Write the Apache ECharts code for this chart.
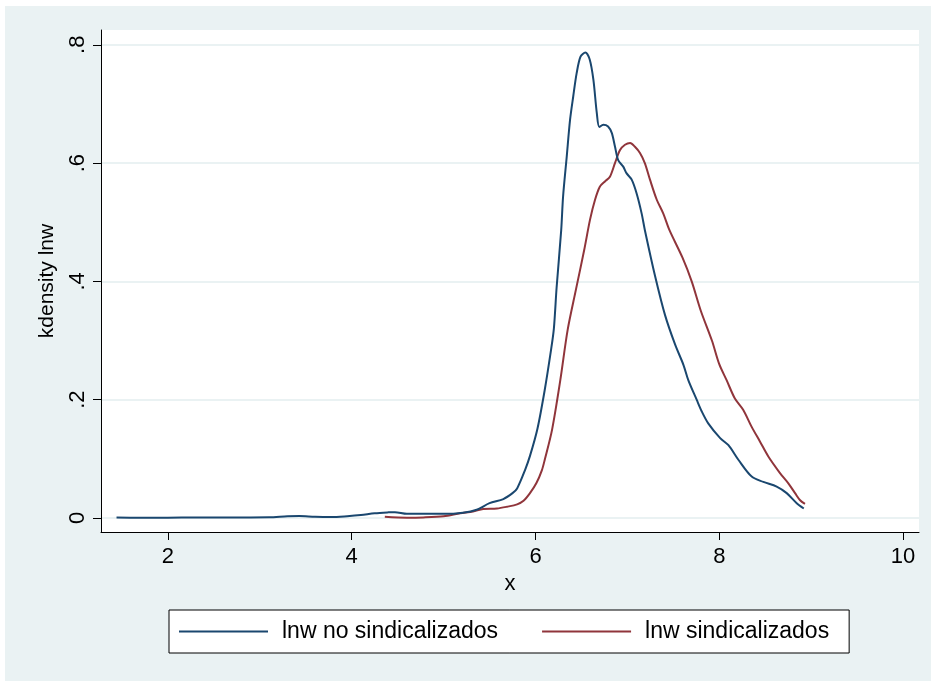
<!DOCTYPE html>
<html>
<head>
<meta charset="utf-8">
<script src="https://cdn.jsdelivr.net/npm/echarts@6/dist/echarts.min.js"></script>
<style>
html,body{margin:0;padding:0;background:#ffffff;}
#chart{position:absolute;left:5px;top:6px;width:926px;height:675px;}
</style>
</head>
<body>
<div id="chart"></div>
<script>
// Tick values and labels
var xTicks = [2, 4, 6, 8, 10];
var yTicks = [0, 0.2, 0.4, 0.6, 0.8];
var yTickLabels = ['0', '.2', '.4', '.6', '.8'];

var seriesNames = ['lnw no sindicalizados', 'lnw sindicalizados'];

// kdensity lnw — no sindicalizados  [x, density]
var noSind = [
  [1.44,0.0008],[1.7,0.0005],[2.0,0.0005],[2.3,0.0008],[2.6,0.001],[2.9,0.001],
  [3.1,0.0012],[3.3,0.003],[3.43,0.0035],[3.6,0.002],[3.78,0.0015],[3.95,0.003],
  [4.1,0.005],[4.25,0.008],[4.4,0.0095],[4.47,0.0098],[4.6,0.007],[4.78,0.007],
  [5.0,0.007],[5.21,0.009],[5.36,0.014],[5.5,0.025],[5.65,0.032],[5.75,0.042],
  [5.80,0.050],[5.886,0.081],[5.94,0.105],[6.02,0.15],[6.10,0.216],[6.17,0.285],
  [6.2,0.32],[6.23,0.39],[6.28,0.487],[6.30,0.543],[6.34,0.611],[6.376,0.673],
  [6.411,0.713],[6.448,0.752],[6.49,0.78],[6.543,0.787],[6.59,0.775],[6.63,0.741],
  [6.667,0.685],[6.695,0.661],[6.738,0.665],[6.79,0.662],[6.83,0.651],[6.865,0.628],
  [6.90,0.605],[6.955,0.594],[6.99,0.583],[7.047,0.572],[7.10,0.549],[7.155,0.515],
  [7.19,0.487],[7.30,0.41],[7.41,0.343],[7.52,0.293],[7.61,0.259],[7.663,0.233],
  [7.754,0.200],[7.81,0.180],[7.88,0.160],[8.01,0.135],[8.10,0.123],[8.21,0.098],
  [8.353,0.070],[8.48,0.061],[8.625,0.053],[8.734,0.042],[8.843,0.025],[8.92,0.016]
];

// kdensity lnw — sindicalizados  [x, density]
var sind = [
  [4.36,0.002],[4.6,0.0005],[4.78,0.001],[5.0,0.003],[5.18,0.008],[5.32,0.011],
  [5.43,0.015],[5.58,0.016],[5.69,0.019],[5.80,0.023],[5.87,0.029],[5.94,0.042],
  [6.01,0.059],[6.07,0.081],[6.10,0.098],[6.18,0.149],[6.27,0.233],[6.35,0.318],
  [6.44,0.386],[6.53,0.453],[6.593,0.504],[6.648,0.538],[6.70,0.560],[6.756,0.569],
  [6.81,0.577],[6.865,0.600],[6.92,0.622],[6.974,0.631],[7.03,0.634],[7.08,0.628],
  [7.137,0.617],[7.19,0.600],[7.246,0.572],[7.32,0.538],[7.39,0.515],[7.457,0.487],
  [7.6,0.44],[7.70,0.40],[7.80,0.35],[7.92,0.30],[8.0,0.26],[8.08,0.233],
  [8.17,0.202],[8.26,0.183],[8.353,0.154],[8.444,0.129],[8.534,0.104],[8.661,0.076],
  [8.75,0.059],[8.825,0.042],[8.88,0.030],[8.933,0.024]
];

var FONT = '"Liberation Sans", Arial, sans-serif';
var chart = echarts.init(document.getElementById('chart'), null, {renderer: 'canvas'});
chart.setOption({
  backgroundColor: '#eaf2f3',
  animation: false,
  textStyle: {fontFamily: FONT},
  grid: {
    left: 96, top: 24, width: 818, height: 502,
    show: true, backgroundColor: '#ffffff', borderWidth: 0
  },
  legend: {
    left: 164, top: 604,
    orient: 'horizontal',
    data: seriesNames,
    icon: 'rect',
    itemWidth: 89, itemHeight: 2,
    itemGap: 44,
    padding: [8, 20, 8, 10],
    backgroundColor: '#ffffff',
    borderColor: '#000000', borderWidth: 1,
    textStyle: {fontSize: 23, color: '#000', fontFamily: FONT, padding: [0, 0, 0, 9], lineHeight: 27}
  },
  xAxis: {
    type: 'value',
    min: 1.271, max: 10.174,
    name: 'x', nameLocation: 'middle', nameGap: 40,
    nameTextStyle: {fontSize: 22, color: '#000', fontFamily: FONT},
    axisLine: {show: true, onZero: false, lineStyle: {color: '#000', width: 1}},
    axisTick: {show: true, length: 8, lineStyle: {color: '#000', width: 1}, customValues: xTicks},
    axisLabel: {fontSize: 22, color: '#000', margin: 14, fontFamily: FONT, customValues: xTicks},
    splitLine: {show: false}
  },
  yAxis: {
    type: 'value',
    min: -0.0237, max: 0.825,
    name: 'kdensity lnw', nameLocation: 'middle', nameGap: 43, nameRotate: 90,
    nameTextStyle: {fontSize: 21, color: '#000', fontFamily: FONT},
    axisLine: {show: true, onZero: false, lineStyle: {color: '#000', width: 1}},
    axisTick: {show: true, length: 8, lineStyle: {color: '#000', width: 1}, customValues: yTicks},
    axisLabel: {
      fontSize: 22, color: '#000', margin: 12, rotate: 90, fontFamily: FONT,
      customValues: yTicks,
      formatter: function (v) {
        var i = yTicks.indexOf(Math.round(v * 10) / 10);
        return i >= 0 ? yTickLabels[i] : '';
      }
    },
    splitLine: {show: true, lineStyle: {color: '#eaf2f3', width: 2}}
  },
  series: [
    {
      name: seriesNames[0], type: 'line', data: noSind,
      showSymbol: false, symbol: 'none', smooth: 0.3,
      lineStyle: {color: '#1a476f', width: 2}, itemStyle: {color: '#1a476f'}, z: 3
    },
    {
      name: seriesNames[1], type: 'line', data: sind,
      showSymbol: false, symbol: 'none', smooth: 0.3,
      lineStyle: {color: '#90353b', width: 2}, itemStyle: {color: '#90353b'}, z: 2
    }
  ]
});
</script>
</body>
</html>
